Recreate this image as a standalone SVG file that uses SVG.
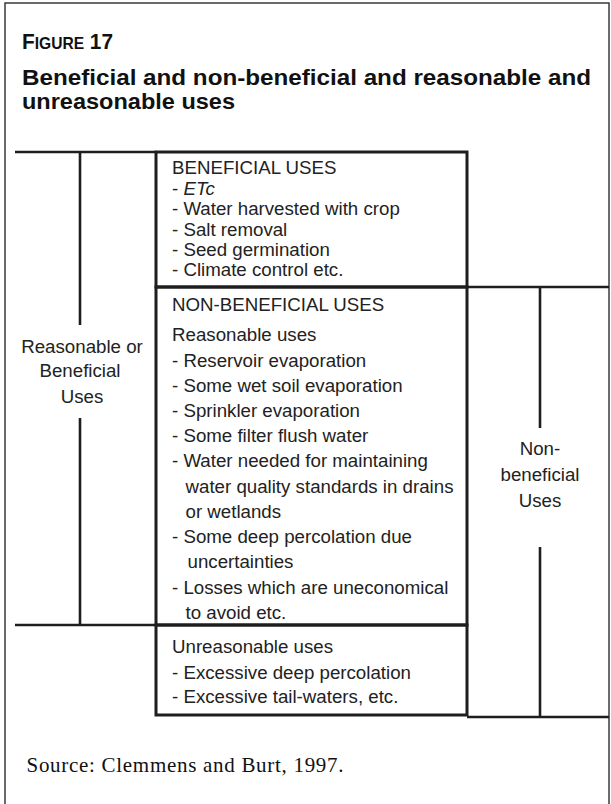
<svg xmlns="http://www.w3.org/2000/svg" width="611" height="804" viewBox="0 0 611 804">
  <style>
    .frame { fill: none; stroke: #3a3a3a; stroke-width: 1.5; }
    .box { fill: none; stroke: #1e1e1e; stroke-width: 3; }
    .rule { fill: none; stroke: #1e1e1e; stroke-width: 2.6; }
    .title { font-family: "Liberation Sans", Arial, sans-serif; font-weight: bold; fill: #111; }
    .body { font-family: "Liberation Sans", Arial, sans-serif; font-size: 18.7px; fill: #222; }
    .label { font-family: "Liberation Sans", Arial, sans-serif; font-size: 18.7px; fill: #222; text-anchor: middle; }
    .source { font-family: "Liberation Serif", "Times New Roman", serif; font-size: 21px; fill: #111; }
  </style>

  <rect x="0" y="0" width="611" height="804" fill="#ffffff"/>
  <rect class="frame" x="5" y="3" width="604" height="820"/>

  <!-- heading -->
  <g id="title">
    <text class="title" x="22" y="48.5" textLength="91" lengthAdjust="spacingAndGlyphs"><tspan font-size="22">F</tspan><tspan font-size="16.5">IGURE</tspan><tspan font-size="22"> 17</tspan></text>
    <text class="title" x="22" y="85" font-size="22.5" textLength="569" lengthAdjust="spacingAndGlyphs">Beneficial and non-beneficial and reasonable and</text>
    <text class="title" x="22" y="108.5" font-size="22.5" textLength="213" lengthAdjust="spacingAndGlyphs">unreasonable uses</text>
  </g>

  <!-- bracket lines joining the boxes to the side labels -->
  <g id="connectors">
    <line class="rule" x1="15" y1="152" x2="156" y2="152"/>
    <line class="rule" x1="15" y1="625" x2="156" y2="625"/>
    <line class="rule" x1="80" y1="152" x2="80" y2="325"/>
    <line class="rule" x1="80" y1="418" x2="80" y2="625"/>
    <line class="rule" x1="467" y1="287" x2="609" y2="287"/>
    <line class="rule" x1="467" y1="717" x2="609" y2="717"/>
    <line class="rule" x1="540" y1="287" x2="540" y2="428"/>
    <line class="rule" x1="540" y1="547" x2="540" y2="717"/>
  </g>

  <g id="beneficial-uses">
    <rect class="box" x="156" y="152" width="311" height="135"/>
    <text class="body" x="172" y="174">BENEFICIAL USES</text>
    <text class="body" x="172" y="194.5">- <tspan font-style="italic">ETc</tspan></text>
    <text class="body" x="172" y="215">- Water harvested with crop</text>
    <text class="body" x="172" y="235.5">- Salt removal</text>
    <text class="body" x="172" y="256">- Seed germination</text>
    <text class="body" x="172" y="276">- Climate control etc.</text>
  </g>

  <g id="non-beneficial-uses">
    <rect class="box" x="156" y="287" width="311" height="338"/>
    <text class="body" x="172" y="311">NON-BENEFICIAL USES</text>
    <text class="body" x="172" y="341">Reasonable uses</text>
    <text class="body" x="172" y="367">- Reservoir evaporation</text>
    <text class="body" x="172" y="392">- Some wet soil evaporation</text>
    <text class="body" x="172" y="417">- Sprinkler evaporation</text>
    <text class="body" x="172" y="442">- Some filter flush water</text>
    <text class="body" x="172" y="467">- Water needed for maintaining</text>
    <text class="body" x="185.5" y="493">water quality standards in drains</text>
    <text class="body" x="185.5" y="518">or wetlands</text>
    <text class="body" x="172" y="543">- Some deep percolation due</text>
    <text class="body" x="187.5" y="568">uncertainties</text>
    <text class="body" x="172" y="594">- Losses which are uneconomical</text>
    <text class="body" x="185.5" y="619">to avoid etc.</text>
  </g>

  <g id="unreasonable-uses">
    <rect class="box" x="156" y="625" width="311" height="90"/>
    <text class="body" x="172" y="653">Unreasonable uses</text>
    <text class="body" x="172" y="679">- Excessive deep percolation</text>
    <text class="body" x="172" y="703">- Excessive tail-waters, etc.</text>
  </g>

  <g id="reasonable-or-beneficial">
    <text class="label" x="82" y="353">Reasonable or</text>
    <text class="label" x="80" y="377">Beneficial</text>
    <text class="label" x="82" y="403">Uses</text>
  </g>

  <g id="non-beneficial">
    <text class="label" x="540" y="455">Non-</text>
    <text class="label" x="540" y="481">beneficial</text>
    <text class="label" x="540" y="507">Uses</text>
  </g>

  <g id="source">
    <text class="source" x="26.5" y="772" textLength="317" lengthAdjust="spacing">Source: Clemmens and Burt, 1997.</text>
  </g>
</svg>
